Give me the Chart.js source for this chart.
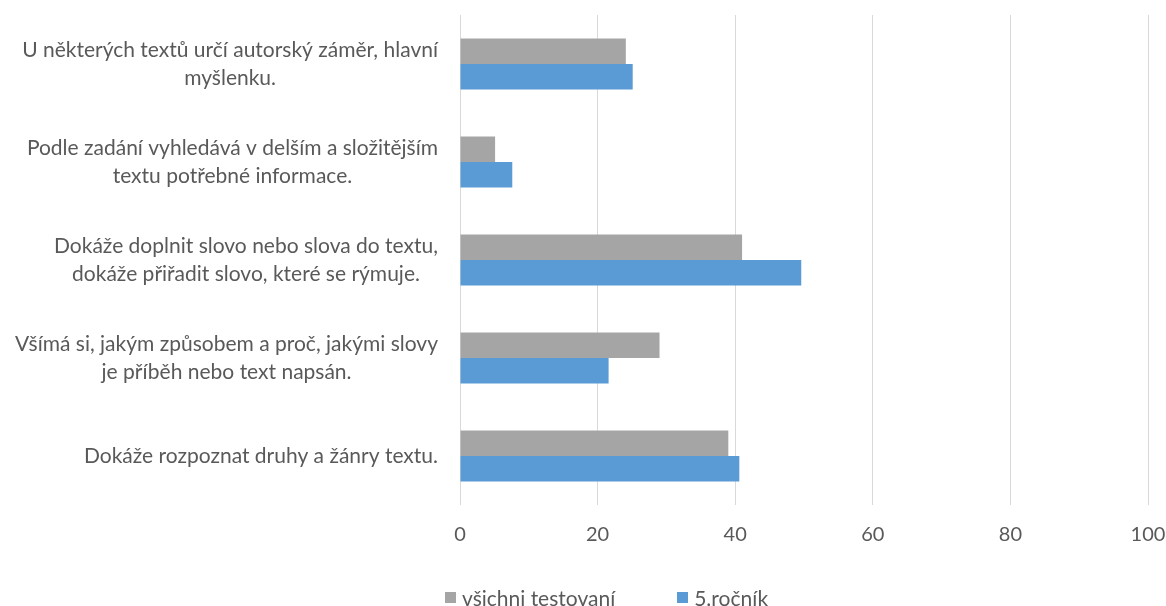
<!DOCTYPE html>
<html lang="cs">
<head>
  <meta charset="UTF-8">
  <title>Čtení s porozuměním</title>
  <script src="https://cdn.jsdelivr.net/npm/chart.js"></script>
  <style>
    html, body {
      margin: 0;
      background: #fff;
      overflow: hidden;
    }
    .wrap {
      position: relative;
      width: 1166px;
      height: 606px;
    }
    canvas {
      display: block;
    }
    .legend {
      position: absolute;
      left: 445px;
      top: 585px;
      display: flex;
      align-items: center;
      font: 21px Lato, sans-serif;
      color: #595959;
      white-space: nowrap;
    }
    .legend span.box {
      display: inline-block;
      width: 11px;
      height: 11px;
      margin-right: 6px;
    }
    .legend .item {
      display: flex;
      align-items: center;
      margin-right: 62px;
    }
  </style>
</head>
<body>
  <div class="wrap">
    <canvas id="chart"></canvas>
    <div class="legend" id="legend"></div>
  </div>

  <script>
    const categories = [
      ['U některých textů určí autorský záměr, hlavní', 'myšlenku.'],
      ['Podle zadání vyhledává v delším a složitějším', 'textu potřebné informace.'],
      ['Dokáže doplnit slovo nebo slova do textu,', 'dokáže přiřadit slovo, které se rýmuje.'],
      ['Všímá si, jakým způsobem a proč, jakými slovy', 'je příběh nebo text napsán.'],
      ['Dokáže rozpoznat druhy a žánry textu.']
    ];
    const seriesNames = ['všichni testovaní', '5.ročník'];
    const allTested = [24.1, 5.1, 41.0, 29.0, 39.0];
    const grade5 = [25.1, 7.6, 49.6, 21.6, 40.6];
    const xTicks = [0, 20, 40, 60, 80, 100];

    const colors = ['#A5A5A5', '#5B9BD5'];
    const textColor = '#595959';
    const fontFamily = 'Lato, sans-serif';

    // category labels: block right-aligned, lines centred inside the block (Excel style)
    const categoryLabels = {
      id: 'categoryLabels',
      afterDraw(chart) {
        const ctx = chart.ctx;
        const yScale = chart.scales.y;
        const rightEdge = 438;
        const lineHeight = 28;
        ctx.save();
        ctx.font = '21px ' + fontFamily;
        ctx.fillStyle = textColor;
        ctx.textAlign = 'center';
        ctx.textBaseline = 'middle';
        categories.forEach(function (lines, i) {
          const y = yScale.getPixelForValue(i);
          const widest = Math.max.apply(null, lines.map(function (l) { return ctx.measureText(l).width; }));
          const cx = rightEdge - widest / 2;
          lines.forEach(function (line, j) {
            ctx.fillText(line, cx, y + (j - (lines.length - 1) / 2) * lineHeight);
          });
        });
        ctx.restore();
      }
    };

    const ctx = document.getElementById('chart').getContext('2d');
    const chart = new Chart(ctx, {
      type: 'bar',
      data: {
        labels: categories,
        datasets: [
          {
            label: seriesNames[0],
            data: allTested,
            backgroundColor: colors[0],
            categoryPercentage: 0.52,
            barPercentage: 1.0
          },
          {
            label: seriesNames[1],
            data: grade5,
            backgroundColor: colors[1],
            categoryPercentage: 0.52,
            barPercentage: 1.0
          }
        ]
      },
      options: {
        indexAxis: 'y',
        responsive: true,
        maintainAspectRatio: false,
        animation: false,
        layout: {
          padding: { top: 15, right: 0, bottom: 0, left: 0 }
        },
        plugins: {
          legend: { display: false },
          tooltip: { enabled: false }
        },
        scales: {
          x: {
            min: 0,
            max: 100,
            afterBuildTicks(scale) {
              scale.ticks = xTicks.map(function (v) { return { value: v }; });
            },
            afterFit(scale) {
              scale.height = 101;
              scale.paddingLeft = 0;
              scale.paddingRight = 18;
            },
            grid: {
              color: '#D9D9D9',
              lineWidth: 1,
              drawTicks: false
            },
            border: { display: false },
            ticks: {
              padding: 18,
              color: textColor,
              font: { family: fontFamily, size: 20 }
            }
          },
          y: {
            afterFit(scale) {
              scale.width = 460;
            },
            grid: { display: false },
            border: { display: false },
            ticks: { display: false }
          }
        }
      },
      plugins: [categoryLabels]
    });

    // legend
    const legend = document.getElementById('legend');
    seriesNames.forEach(function (name, i) {
      const item = document.createElement('div');
      item.className = 'item';
      item.innerHTML = '<span class="box" style="background:' + colors[i] + '"></span>' + name;
      legend.appendChild(item);
    });
  </script>
</body>
</html>
